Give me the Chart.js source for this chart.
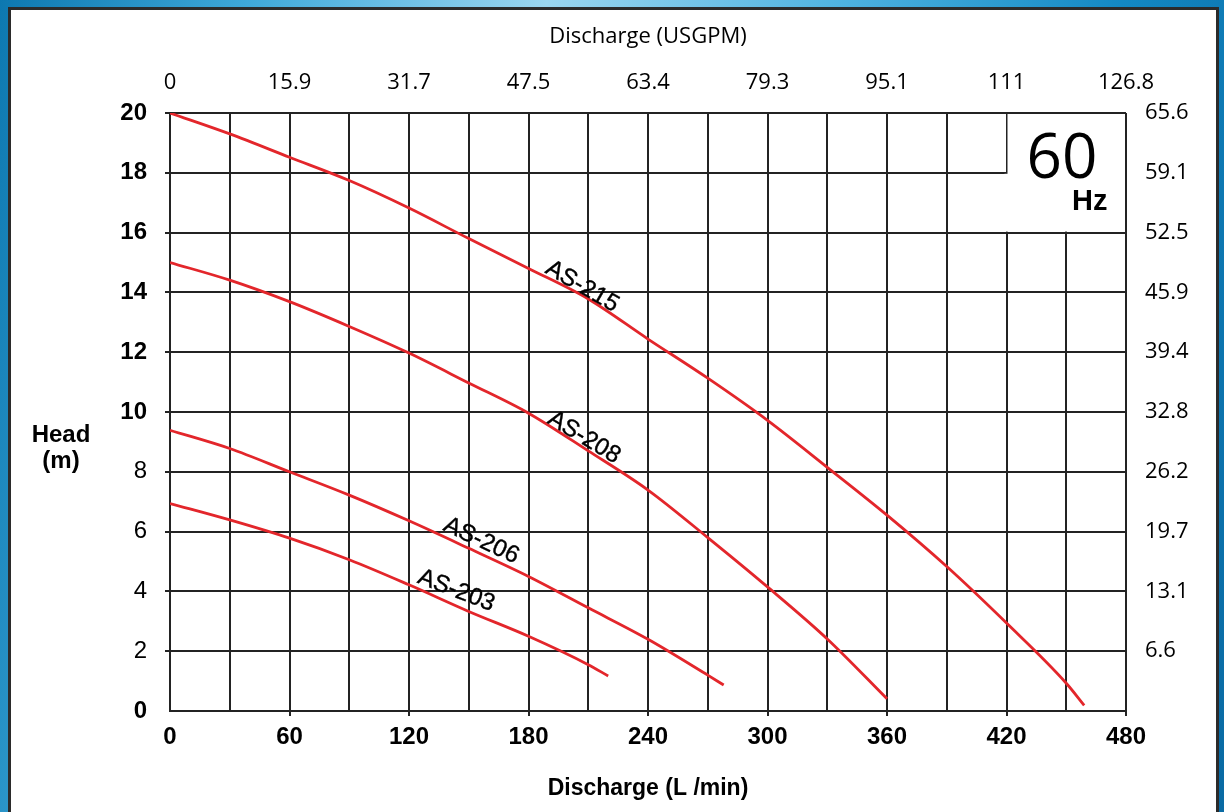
<!DOCTYPE html>
<html><head><meta charset="utf-8">
<script src="https://cdn.jsdelivr.net/npm/chart.js@4.4.1/dist/chart.umd.min.js"></script>
<style>
html,body{margin:0;padding:0;width:1224px;height:812px;overflow:hidden;}
body{position:relative;background:linear-gradient(100deg,#0d78b0 0%,#3ea8d9 18%,#9ad6f0 40%,#4db2e0 62%,#1389c4 82%,#0a6aa3 100%);}
#frame{position:absolute;left:8px;top:7px;width:1205px;height:840px;border:3px solid #2b2b2b;background:#fff;}
#wrap{position:absolute;left:0;top:0;width:1224px;height:812px;}
</style></head><body>
<div id="frame"></div>
<div id="wrap"><canvas id="c" width="1224" height="812"></canvas></div>
<script>
// ---- data ----
const flow215 = [0,30,60,90,120,150,180,210,240,270,300,330,360,390,420,450,459];
const head215 = [20,19.3,18.52,17.74,16.82,15.8,14.8,13.78,12.44,11.13,9.72,8.15,6.55,4.83,2.94,0.93,0.19];
const flow208 = [0,30,60,90,120,150,180,210,240,270,300,330,360];
const head208 = [15,14.41,13.69,12.86,11.97,10.97,9.96,8.7,7.39,5.8,4.15,2.41,0.41];
const flow206 = [0,30,60,90,120,150,180,210,240,270,278];
const head206 = [9.39,8.78,8.0,7.22,6.36,5.44,4.5,3.45,2.4,1.2,0.87];
const flow203 = [0,30,60,90,120,150,180,210,220];
const head203 = [6.94,6.39,5.78,5.06,4.22,3.33,2.5,1.55,1.17];
const seriesNames = ['AS-215','AS-208','AS-206','AS-203'];
const usgpmLabels = ['0','15.9','31.7','47.5','63.4','79.3','95.1','111','126.8']; // at 0,60,...,480 L/min
const feetLabels = ['6.6','13.1','19.7','26.2','32.8','39.4','45.9','52.5','59.1','65.6']; // at 2,4,...,20 m

const pts = (xs, ys) => xs.map((v, i) => ({x: v, y: ys[i]}));
const RED = '#e3262b';
const GRID = '#232323';
const ARIAL = "'Liberation Sans', Arial, sans-serif";
const MYRIAD = "'Open Sans', 'Noto Sans', sans-serif";

const overlay = {
  id: 'overlay',
  beforeDatasetsDraw(chart) {
    const {ctx, scales: {x, y}} = chart;
    const x420 = x.getPixelForValue(420), x480 = x.getPixelForValue(480);
    const y20 = y.getPixelForValue(20), y18 = y.getPixelForValue(18), y16 = y.getPixelForValue(16);
    ctx.save();
    ctx.fillStyle = '#fff';
    ctx.fillRect(x420 + 1, y20 + 1, x480 - x420 - 2, y16 - y20 - 2);
    ctx.fillRect(x420 - 2, y18 + 1, 4, y16 - y18 - 2);
    ctx.restore();
  },
  afterDatasetsDraw(chart) {
    const {ctx, scales: {x, y}} = chart;
    ctx.save();
    ctx.fillStyle = '#000';
    // 60 Hz badge
    ctx.font = "62px " + MYRIAD;
    ctx.textAlign = 'center'; ctx.textBaseline = 'alphabetic';
    ctx.fillText('60', x.getPixelForValue(447.9), y.getPixelForValue(17.83));
    ctx.font = "bold 29px " + ARIAL;
    ctx.textAlign = 'left';
    ctx.fillText('Hz', x.getPixelForValue(452.9), y.getPixelForValue(16.76));
    // curve labels
    const labels = [
      {t: seriesNames[0], x: 207.4, y: 14.25, a: 30},
      {t: seriesNames[1], x: 208.4, y: 9.2, a: 31},
      {t: seriesNames[2], x: 156.7, y: 5.75, a: 25},
      {t: seriesNames[3], x: 144.1, y: 4.08, a: 21}
    ];
    ctx.font = "24px " + ARIAL;
    ctx.textAlign = 'center'; ctx.textBaseline = 'alphabetic';
    ctx.strokeStyle = '#000'; ctx.lineWidth = 0.4;
    labels.forEach(l => {
      ctx.save();
      ctx.translate(x.getPixelForValue(l.x), y.getPixelForValue(l.y));
      ctx.rotate(l.a * Math.PI / 180);
      ctx.fillText(l.t, 0, 8.5);
      ctx.strokeText(l.t, 0, 8.5);
      ctx.restore();
    });
    // left title, horizontal two lines
    ctx.font = "bold 24px " + ARIAL;
    ctx.textAlign = 'center';
    ctx.fillText('Head', 61, 442);
    ctx.fillText('(m)', 61, 468);
    ctx.restore();
  }
};

new Chart(document.getElementById('c'), {
  type: 'line',
  data: {
    datasets: [
      {label: seriesNames[0], data: pts(flow215, head215)},
      {label: seriesNames[1], data: pts(flow208, head208)},
      {label: seriesNames[2], data: pts(flow206, head206)},
      {label: seriesNames[3], data: pts(flow203, head203)}
    ].map(d => Object.assign(d, {borderColor: RED, borderWidth: 2.8, pointRadius: 0, fill: false, cubicInterpolationMode: 'monotone', xAxisID: 'x', yAxisID: 'y'}))
  },
  options: {
    responsive: false,
    devicePixelRatio: 1,
    animation: false,
    layout: {padding: 0},
    plugins: {legend: {display: false}, tooltip: {enabled: false}},
    scales: {
      x: {
        type: 'linear', position: 'bottom', min: 0, max: 480,
        afterFit(s) { s.height = 812 - 711; },
        ticks: {stepSize: 30, autoSkip: false, maxRotation: 0, padding: 7, color: '#000',
          font: {family: ARIAL, size: 24, weight: 'bold'},
          callback: v => (v % 60 === 0 ? String(v) : '')},
        grid: {color: GRID, lineWidth: 2, tickLength: 5,
          tickColor: c => (c.tick && c.tick.value % 60 === 0 && c.tick.value > 0) ? GRID : 'rgba(0,0,0,0)'},
        border: {display: true, color: GRID, width: 2},
        title: {display: true, text: 'Discharge (L /min)', color: '#000',
          font: {family: ARIAL, size: 23, weight: 'bold'}, padding: {top: 0, bottom: 10}}
      },
      x2: {
        type: 'linear', position: 'top', min: 0, max: 480,
        afterFit(s) { s.height = 113; },
        ticks: {stepSize: 60, autoSkip: false, maxRotation: 0, padding: 9, color: '#000',
          font: {family: MYRIAD, size: 22},
          callback: v => usgpmLabels[Math.round(v / 60)]},
        grid: {display: false},
        border: {display: false},
        title: {display: true, text: 'Discharge (USGPM)', color: '#000',
          font: {family: MYRIAD, size: 22}, padding: {top: 24, bottom: 0}}
      },
      y: {
        type: 'linear', position: 'left', min: 0, max: 20,
        afterFit(s) { s.width = 170; },
        ticks: {stepSize: 2, padding: 18, color: '#000',
          font: c => ({family: ARIAL, size: 24, weight: (c.tick && (c.tick.value >= 10 || c.tick.value === 0)) ? 'bold' : 'normal'})},
        grid: {color: GRID, lineWidth: 2, tickLength: 5,
          tickColor: c => (c.tick && c.tick.value > 0) ? GRID : 'rgba(0,0,0,0)'},
        border: {display: true, color: GRID, width: 2}
      },
      y2: {
        type: 'linear', position: 'right', min: 0, max: 20,
        afterFit(s) { s.width = 1224 - 1126; },
        ticks: {stepSize: 2, padding: 11, color: '#000',
          font: {family: MYRIAD, size: 22},
          callback: v => (v === 0 ? '' : feetLabels[Math.round(v / 2) - 1])},
        grid: {display: false},
        border: {display: false}
      }
    }
  },
  plugins: [overlay]
});
</script>
</body></html>
